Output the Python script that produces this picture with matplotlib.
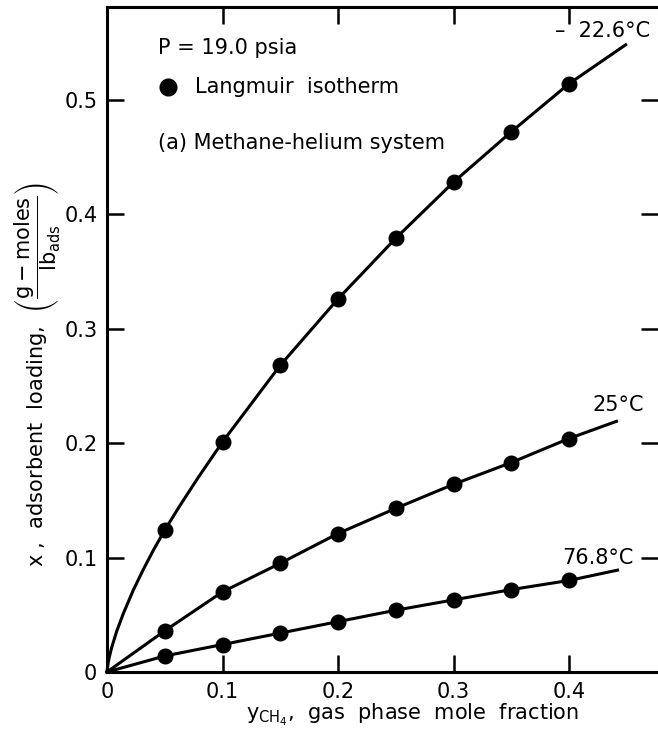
import numpy as np
import matplotlib
matplotlib.use('Agg')
import matplotlib.pyplot as plt

plt.rcParams.update({'font.family': 'DejaVu Sans', 'mathtext.fontset': 'dejavusans'})

# measured points (gas phase mole fraction vs loading)
y_frac = [0.05, 0.10, 0.15, 0.20, 0.25, 0.30, 0.35, 0.40]
load_m226 = [0.124, 0.201, 0.268, 0.326, 0.379, 0.428, 0.472, 0.514]
load_25 = [0.036, 0.070, 0.095, 0.121, 0.143, 0.164, 0.183, 0.204]
load_768 = [0.014, 0.024, 0.034, 0.044, 0.054, 0.063, 0.072, 0.080]

# isotherm curves
curve_x_m226 = [0.0, 0.001, 0.002, 0.004, 0.0084, 0.0141, 0.0228, 0.0314, 0.0401, 0.05,
                0.0632, 0.079, 0.10, 0.15, 0.20, 0.25, 0.30, 0.35, 0.40, 0.449]
curve_y_m226 = [0.0, 0.0080, 0.0130, 0.0212, 0.0356, 0.0510, 0.0716, 0.0895, 0.1063, 0.124,
                0.1455, 0.170, 0.201, 0.268, 0.326, 0.379, 0.428, 0.472, 0.514, 0.548]
curve_x_25 = [0.0, 0.05, 0.10, 0.15, 0.20, 0.25, 0.30, 0.35, 0.40, 0.441]
curve_y_25 = [0.0, 0.036, 0.070, 0.095, 0.121, 0.143, 0.164, 0.183, 0.204, 0.219]
curve_x_768 = [0.0, 0.05, 0.10, 0.15, 0.20, 0.25, 0.30, 0.35, 0.40, 0.442]
curve_y_768 = [0.0, 0.014, 0.024, 0.034, 0.044, 0.054, 0.063, 0.072, 0.080, 0.089]

xticks = [0, 0.1, 0.2, 0.3, 0.4]
xtick_labels = ['0', '0.1', '0.2', '0.3', '0.4']
yticks = [0, 0.1, 0.2, 0.3, 0.4, 0.5]
ytick_labels = ['0', '0.1', '0.2', '0.3', '0.4', '0.5']

fs = 15

fig = plt.figure(figsize=(6.58, 7.48), dpi=100)
ax = fig.add_axes([0.1626, 0.1016, 0.8374, 0.889])

for cx, cy, py in [(curve_x_m226, curve_y_m226, load_m226),
                   (curve_x_25, curve_y_25, load_25),
                   (curve_x_768, curve_y_768, load_768)]:
    ax.plot(cx, cy, color='black', lw=2.2, solid_joinstyle='round', clip_on=False)
    ax.plot(y_frac, py, 'o', color='black', ms=10.5, zorder=3)

ax.set_xlim(0, 0.477)
ax.set_ylim(0, 0.581)
ax.set_xticks(xticks)
ax.set_xticklabels(xtick_labels)
ax.set_yticks(yticks)
ax.set_yticklabels(ytick_labels)
ax.tick_params(direction='in', length=12, width=1.8, labelsize=fs,
               top=True, right=True, pad=7)
ax.spines['right'].set_visible(False)
for s in ['left', 'bottom', 'top']:
    ax.spines[s].set_linewidth(2.2)

ax.text(0.388, 0.560, '\u2013  22.6\u00b0C', fontsize=fs, ha='left', va='center')
ax.text(0.420, 0.233, '25\u00b0C', fontsize=fs, ha='left', va='center')
ax.text(0.394, 0.100, '76.8\u00b0C', fontsize=fs, ha='left', va='center')

ax.text(0.044, 0.545, 'P = 19.0 psia', fontsize=fs, ha='left', va='center')
ax.plot([0.053], [0.511], 'o', color='black', ms=12)
ax.text(0.076, 0.511, 'Langmuir  isotherm', fontsize=fs, ha='left', va='center')
ax.text(0.044, 0.462, '(a) Methane-helium system', fontsize=fs, ha='left', va='center')

fig.text(38 / 658, 1 - 375 / 748,
         r'x ,  adsorbent  loading,  $\left(\dfrac{\mathrm{g-moles}}{\mathrm{lb_{ads}}}\right)$',
         fontsize=fs, rotation=90, ha='center', va='center')
fig.text(413 / 658, 1 - 720 / 748,
         r'$\mathrm{y_{CH_4}}$,  gas  phase  mole  fraction',
         fontsize=fs, ha='center', va='baseline')

fig.savefig('out.png', dpi=100)
